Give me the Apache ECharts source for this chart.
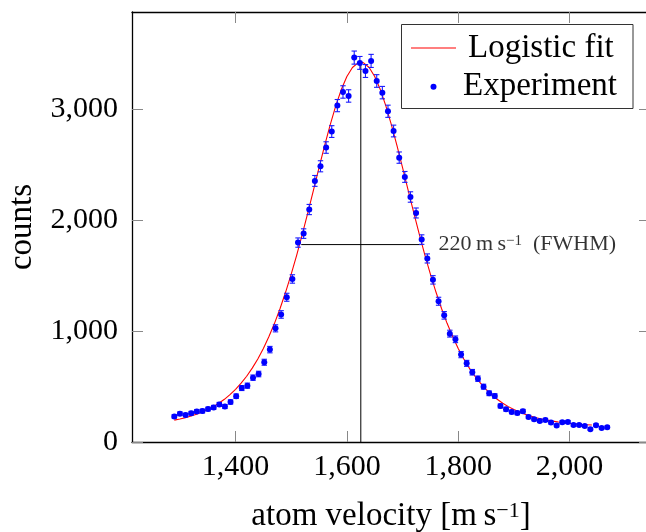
<!DOCTYPE html>
<html><head><meta charset="utf-8">
<script src="https://cdn.jsdelivr.net/npm/echarts@6/dist/echarts.min.js"></script>
<style>html,body{margin:0;padding:0;background:#fff}#c{width:646px;height:532px}</style>
</head><body><div id="c"></div>
<script>
// ---- data ----
const velocity = [1290.0,1300.1,1310.2,1320.3,1330.4,1340.5,1350.6,1360.7,1370.8,1380.9,
  1391.0,1401.1,1411.2,1421.3,1431.4,1441.5,1451.6,1461.7,1471.8,1481.9,
  1492.0,1502.1,1512.2,1522.3,1532.4,1542.5,1552.6,1562.7,1572.8,1582.9,
  1593.0,1603.1,1613.2,1623.3,1633.4,1643.5,1653.6,1663.7,1673.8,1683.9,
  1694.0,1704.1,1714.2,1724.3,1734.4,1744.5,1754.6,1764.7,1774.8,1784.9,
  1795.0,1805.1,1815.2,1825.3,1835.4,1845.5,1855.6,1865.7,1875.8,1885.9,
  1896.0,1906.1,1916.2,1926.3,1936.4,1946.5,1956.6,1966.7,1976.8,1986.9,
  1997.0,2007.1,2017.2,2027.3,2037.4,2047.5,2057.6,2067.7];
const counts = [231,255,243,260,276,279,297,312,339,320,
  361,413,486,508,580,613,719,833,1025,1150,
  1305,1470,1798,1879,2096,2354,2486,2655,2799,3033,
  3156,3120,3466,3418,3345,3436,3255,3150,2982,2804,
  2564,2390,2209,2065,1825,1655,1462,1269,1142,977,
  926,788,709,629,571,499,439,415,325,295,
  271,262,277,226,205,190,199,175,148,178,
  181,154,154,145,115,151,126,133];
const countErr = [15,16,16,16,17,17,17,18,18,18,
  19,20,22,23,24,25,27,29,32,34,
  36,38,42,43,46,49,50,52,53,55,
  56,56,59,58,58,59,57,56,55,53,
  51,49,47,45,43,41,38,36,34,31,
  30,28,27,25,24,22,21,20,18,17,
  16,16,17,15,14,14,14,13,12,13,
  13,12,12,12,11,12,11,12];
const fitVelocity = [1290,1300,1310,1320,1330,1340,1350,1360,1370,1380,1390,1400,1410,1420,1430,1440,1450,1460,1470,1480,
  1490,1500,1510,1520,1530,1540,1550,1560,1570,1580,1590,1600,1610,1620,1625,1630,1640,1650,1660,1670,
  1680,1690,1700,1710,1720,1730,1740,1750,1760,1770,1780,1790,1800,1810,1820,1830,1840,1850,1860,1870,
  1880,1890,1900,1910,1920,1930,1940,1950,1960,1970,1980,1990,2000,2010,2020,2030,2040];
const fitCounts = [197,207,219,234,250,270,293,319,350,385,427,475,530,593,666,749,844,951,1070,1204,
  1352,1514,1688,1874,2070,2271,2473,2672,2860,3031,3178,3296,3377,3419,3424,3419,3377,3296,3178,3031,
  2860,2672,2473,2271,2070,1874,1688,1514,1352,1204,1070,951,844,749,666,593,530,475,427,385,
  350,319,293,270,250,234,219,207,197,188,180,174,168,163,159,156,153];
const xTicks = [1400,1600,1800,2000];
const yTicks = [0,1000,2000,3000];
const peakVelocity = 1625, peakCounts = 3424;
const fwhmLow = 1518, fwhmHigh = 1734, fwhmLevel = 1780;
const fwhmText = '220';

// ---- chart ----
const FONT = '"Liberation Serif", "DejaVu Serif", serif';
const fmt = v => String(v).replace(/\B(?=(\d{3})+(?!\d))/g, ',');
const chart = echarts.init(document.getElementById('c'));
const tickStyle = {color:'#888', width:1};
const lineAxis = {color:'#000', width:1.3};

const option = {
  animation:false,
  backgroundColor:'#fff',
  grid:{left:132, top:12, width:518, height:430, containLabel:false, outerBoundsMode:'none'},
  xAxis:[{
    type:'value', min:1214, max:2144.5, position:'bottom',
    axisLine:{show:true, onZero:false, lineStyle:lineAxis},
    axisTick:{show:true, inside:true, length:11, customValues:xTicks, lineStyle:tickStyle},
    axisLabel:{customValues:xTicks, formatter:fmt, fontFamily:FONT, fontSize:30, color:'#000', margin:10},
    splitLine:{show:false},
    name:'atom velocity [m\u2009s{sup|\u22121}]', nameLocation:'middle', nameGap:58,
    nameTextStyle:{fontFamily:FONT, fontSize:33, color:'#000',
      rich:{sup:{fontFamily:FONT, fontSize:22, color:'#000', verticalAlign:'top'}}}
  },{
    type:'value', min:1214, max:2144.5, position:'top',
    axisLine:{show:true, onZero:false, lineStyle:lineAxis},
    axisTick:{show:true, inside:true, length:11, customValues:xTicks, lineStyle:tickStyle},
    axisLabel:{show:false}, splitLine:{show:false}
  }],
  yAxis:[{
    type:'value', min:0, max:3877, position:'left',
    axisLine:{show:true, onZero:false, lineStyle:lineAxis},
    axisTick:{show:true, inside:true, length:11, customValues:yTicks, lineStyle:tickStyle},
    axisLabel:{customValues:yTicks, formatter:fmt, fontFamily:FONT, fontSize:30, color:'#000', margin:14,
      padding:[0,0,5,0]},
    splitLine:{show:false},
    name:'counts', nameLocation:'middle', nameGap:93,
    nameTextStyle:{fontFamily:FONT, fontSize:33, color:'#000'}
  },{
    type:'value', min:0, max:3877, position:'right',
    axisLine:{show:true, onZero:false, lineStyle:lineAxis},
    axisTick:{show:true, inside:true, length:11, customValues:yTicks, lineStyle:tickStyle},
    axisLabel:{show:false}, splitLine:{show:false}
  }],
  legend:{
    orient:'vertical', left:411, top:31.5, padding:0, itemWidth:45, itemHeight:6, itemGap:5.7,
    textStyle:{fontFamily:FONT, fontSize:33, color:'#000', lineHeight:33},
    data:[{name:'Logistic fit', icon:'path://M0,0L45,0L45,1.2L0,1.2Z', textStyle:{padding:[0,0,0,7]}},
          {name:'Experiment', icon:'circle', textStyle:{padding:[0,0,0,2]}}]
  },
  graphic:[{type:'rect', z:3, shape:{x:401.5, y:24.5, width:231.5, height:84},
    style:{fill:'#fff', stroke:'#333', lineWidth:1}}],
  series:[
    {name:'Logistic fit', type:'line', z:2, symbol:'none', smooth:false,
     lineStyle:{color:'#ff0000', width:1.1}, itemStyle:{color:'#ff0000'},
     data:fitVelocity.map((v,i)=>[v, fitCounts[i]])},
    {name:'peak', type:'line', z:2, symbol:'none', lineStyle:{color:'#000', width:1},
     data:[[peakVelocity,0],[peakVelocity,peakCounts]]},
    {name:'fwhm', type:'line', z:2, symbol:'none', lineStyle:{color:'#000', width:1},
     data:[[fwhmLow,fwhmLevel],[fwhmHigh,fwhmLevel]]},
    {name:'errors', type:'custom', z:3,
     data:velocity.map((v,i)=>[v, counts[i], countErr[i]]),
     renderItem:function(params, api){
       const x = api.value(0), y = api.value(1), e = api.value(2);
       const t = api.coord([x, y+e]), b = api.coord([x, y-e]);
       const hw = 2.7, st = {stroke:'#1a1aff', lineWidth:1.1};
       return {type:'group', children:[
         {type:'line', shape:{x1:t[0],y1:t[1],x2:b[0],y2:b[1]}, style:st},
         {type:'line', shape:{x1:t[0]-hw,y1:t[1],x2:t[0]+hw,y2:t[1]}, style:st},
         {type:'line', shape:{x1:b[0]-hw,y1:b[1],x2:b[0]+hw,y2:b[1]}, style:st}
       ]};
     }},
    {name:'Experiment', type:'scatter', z:4, symbol:'circle', symbolSize:6,
     itemStyle:{color:'#0000ff', opacity:1},
     data:velocity.map((v,i)=>[v, counts[i]])},
    {name:'fwhmLabel', type:'scatter', z:4, symbolSize:0, silent:true,
     itemStyle:{color:'transparent'},
     label:{show:true, position:'right', distance:17, color:'#000', fontFamily:FONT, fontSize:22,
       formatter: fwhmText + '\u2009m\u2009s{sup|\u22121}  (FWHM)',
       rich:{sup:{fontFamily:FONT, fontSize:15, color:'#000', verticalAlign:'top'}}},
     data:[[fwhmHigh, fwhmLevel]]}
  ]
};
chart.setOption(option);
</script></body></html>
